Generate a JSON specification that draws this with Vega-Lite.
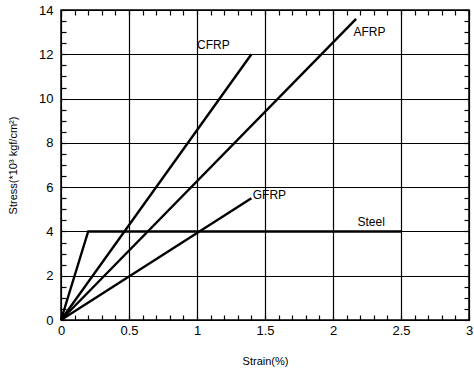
{
  "$schema": "https://vega.github.io/schema/vega-lite/v6.json",
  "width": 408,
  "height": 310,
  "autosize": {"type": "none"},
  "padding": {"left": 61, "top": 10, "right": 5, "bottom": 56},
  "background": "white",
  "config": {
    "view": {"stroke": "black", "strokeWidth": 1.5},
    "font": "Liberation Sans"
  },
  "datasets": {
    "curves": [
      {"material": "Steel", "strain": 0, "stress": 0},
      {"material": "Steel", "strain": 0.2, "stress": 4},
      {"material": "Steel", "strain": 2.5, "stress": 4},
      {"material": "CFRP", "strain": 0, "stress": 0},
      {"material": "CFRP", "strain": 1.4, "stress": 12},
      {"material": "AFRP", "strain": 0, "stress": 0},
      {"material": "AFRP", "strain": 2.17, "stress": 13.6},
      {"material": "GFRP", "strain": 0, "stress": 0},
      {"material": "GFRP", "strain": 1.4, "stress": 5.5}
    ],
    "labels": [
      {"label": "CFRP", "strain": 1.0, "stress": 12.4},
      {"label": "AFRP", "strain": 2.15, "stress": 13.0},
      {"label": "GFRP", "strain": 1.41, "stress": 5.65},
      {"label": "Steel", "strain": 2.18, "stress": 4.43}
    ]
  },
  "resolve": {"axis": {"x": "independent", "y": "independent"}},
  "layer": [
    {
      "data": {"name": "curves"},
      "mark": {"type": "line", "color": "black", "strokeWidth": 2.4},
      "encoding": {
        "detail": {"field": "material"},
        "x": {
          "field": "strain", "type": "quantitative",
          "scale": {"domain": [0, 3], "nice": false},
          "axis": {
            "orient": "bottom",
            "offset": -5,
            "domain": false,
            "title": "Strain(%)",
            "titleFontSize": 11, "titleFontWeight": "normal", "titleColor": "black", "titlePadding": 18,
            "values": [0,0.1,0.2,0.3,0.4,0.5,0.6,0.7,0.8,0.9,1,1.1,1.2,1.3,1.4,1.5,1.6,1.7,1.8,1.9,2,2.1,2.2,2.3,2.4,2.5,2.6,2.7,2.8,2.9,3],
            "labelExpr": "abs(datum.value*2 - round(datum.value*2)) < 0.001 ? format(datum.value, '~g') : ''",
            "labelFontSize": 13, "labelColor": "black", "labelPadding": 4, "labelFlush": false,
            "tickSize": 5, "tickWidth": 1.2, "tickColor": "black",
            "grid": true, "gridColor": "black", "gridWidth": 1.2,
            "gridOpacity": {"condition": {"test": "abs(datum.value*2 - round(datum.value*2)) < 0.001", "value": 1}, "value": 0}
          }
        },
        "y": {
          "field": "stress", "type": "quantitative",
          "scale": {"domain": [0, 14], "nice": false},
          "axis": {
            "orient": "left",
            "offset": -5,
            "domain": false,
            "title": "Stress(*10³ kgf/cm²)",
            "titleFontSize": 11, "titleFontWeight": "normal", "titleColor": "black", "titlePadding": 20,
            "values": [0,0.5,1,1.5,2,2.5,3,3.5,4,4.5,5,5.5,6,6.5,7,7.5,8,8.5,9,9.5,10,10.5,11,11.5,12,12.5,13,13.5,14],
            "labelExpr": "abs(datum.value/2 - round(datum.value/2)) < 0.001 ? format(datum.value, '~g') : ''",
            "labelFontSize": 13, "labelColor": "black", "labelPadding": 8, "labelFlush": false,
            "tickSize": 5, "tickWidth": 1.2, "tickColor": "black",
            "grid": true, "gridColor": "black", "gridWidth": 1.2,
            "gridOpacity": {"condition": {"test": "abs(datum.value/2 - round(datum.value/2)) < 0.001", "value": 1}, "value": 0}
          }
        }
      }
    },
    {
      "data": {"name": "labels"},
      "mark": {"type": "text", "align": "left", "baseline": "middle", "fontSize": 12, "font": "Liberation Sans", "color": "black"},
      "encoding": {
        "text": {"field": "label"},
        "x": {
          "field": "strain", "type": "quantitative",
          "axis": {
            "orient": "top", "offset": -5, "domain": false, "title": null, "labels": false, "grid": false,
            "values": [0,0.1,0.2,0.3,0.4,0.5,0.6,0.7,0.8,0.9,1,1.1,1.2,1.3,1.4,1.5,1.6,1.7,1.8,1.9,2,2.1,2.2,2.3,2.4,2.5,2.6,2.7,2.8,2.9,3],
            "tickSize": 5, "tickWidth": 1.2, "tickColor": "black"
          }
        },
        "y": {
          "field": "stress", "type": "quantitative",
          "axis": {
            "orient": "right", "offset": -5, "domain": false, "title": null, "labels": false, "grid": false,
            "values": [0,0.5,1,1.5,2,2.5,3,3.5,4,4.5,5,5.5,6,6.5,7,7.5,8,8.5,9,9.5,10,10.5,11,11.5,12,12.5,13,13.5,14],
            "tickSize": 5, "tickWidth": 1.2, "tickColor": "black"
          }
        }
      }
    }
  ]
}
